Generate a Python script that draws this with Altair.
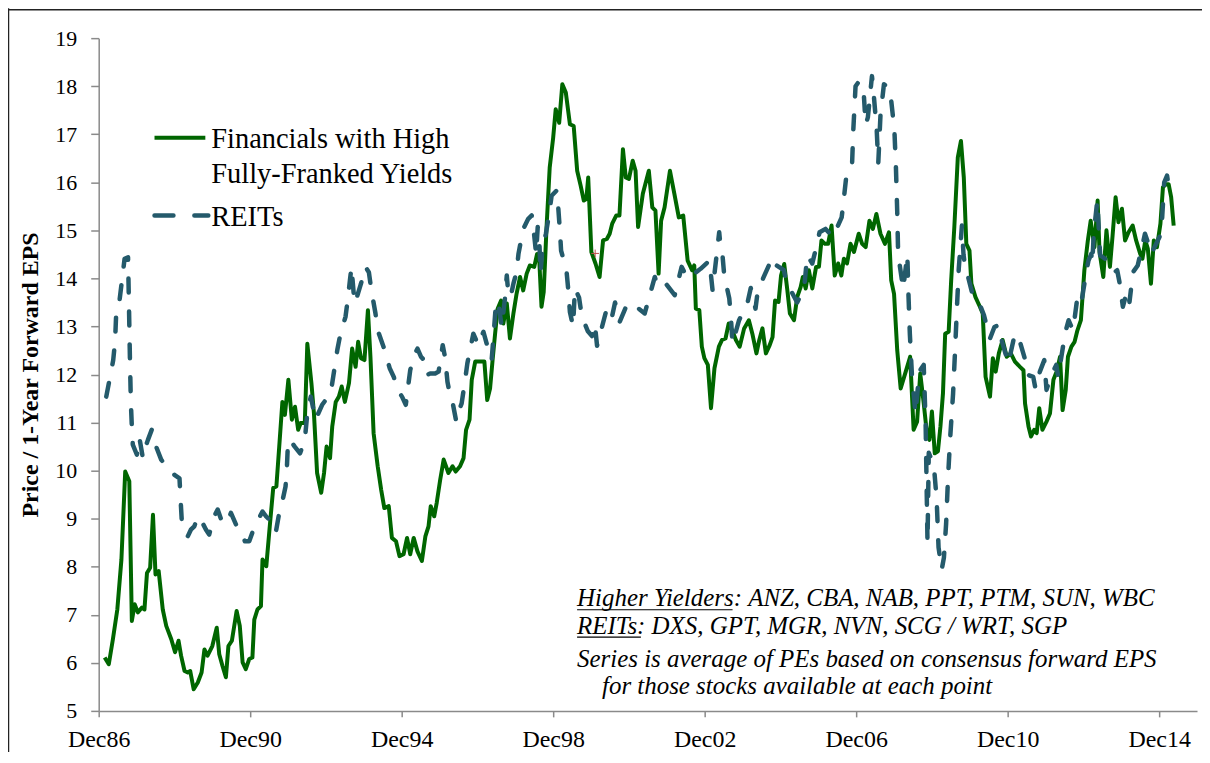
import altair as alt
import pandas as pd

# ---- data (months after Dec 1986, P/E value) ----
fin_month = [1.9, 3.2, 4.5, 5.9, 7.2, 8.4, 9.7, 10.5, 11.4, 12.4, 13.7, 14.5, 15.3, 16.3, 17.2, 18.0, 19.0,
             20.3, 21.4, 23.0, 24.2, 25.3, 26.1, 27.2, 28.2, 29.0, 30.1, 31.4, 32.6, 33.5, 34.5, 36.0, 37.4,
             38.2, 39.2, 40.3, 41.1, 42.2, 43.7, 44.7, 45.6, 46.6, 47.7, 48.7, 49.3, 50.3, 51.4, 51.9, 53.1,
             54.2, 55.3, 56.3, 57.2, 58.2, 59.0, 60.1, 61.2, 62.2, 63.2, 64.0, 65.3, 66.1, 67.4, 68.2, 69.2,
             70.5, 71.4, 72.2, 73.3, 74.0, 75.1, 76.1, 77.0, 78.0, 79.3, 80.3, 81.4, 82.2, 83.1, 84.2, 85.3,
             86.1, 87.1, 88.4, 89.5, 90.5, 91.9, 92.9, 94.2, 95.3, 96.6, 97.7, 98.7, 99.8, 101.0, 102.4, 103.5,
             104.5, 105.2, 106.3, 107.1, 108.2, 109.3, 110.8, 112.1, 113.1, 114.5, 115.6, 116.4, 117.5, 118.2,
             119.3, 120.8, 122.2, 123.1, 124.0, 124.8, 125.6, 126.4, 127.5, 128.2, 129.3, 130.3, 131.4, 132.4,
             133.5, 134.5, 135.6, 136.6, 138.0, 138.9, 139.6, 140.3, 141.0, 141.9, 142.9, 144.0, 144.8, 145.9,
             146.9, 148.0, 149.3, 150.5, 151.6, 152.7, 153.7, 154.5, 155.1, 156.1, 157.4, 158.7, 159.8, 161.0,
             161.9, 162.7, 164.0, 165.0, 166.1, 167.0, 168.0, 169.2, 170.1, 170.9, 172.4, 174.3, 175.4, 176.4,
             177.4, 178.2, 179.3, 181.0, 182.4, 183.8, 185.2, 186.6, 188.0, 188.7, 189.2, 190.3, 191.1, 191.9,
             193.0, 194.0, 195.1, 196.5, 197.5, 198.6, 199.6, 200.7, 201.9, 203.1, 204.5, 206.0, 207.1, 208.4,
             209.3, 210.3, 211.4, 212.6, 213.5, 214.3, 215.4, 216.2, 217.2, 218.2, 219.0, 220.3, 221.3, 222.4,
             223.1, 224.0, 225.0, 226.1, 227.3, 228.2, 229.0, 230.1, 231.1, 232.2, 233.2, 234.3, 235.3, 236.1,
             237.1, 238.2, 239.3, 240.8, 241.9, 243.0, 244.2, 245.3, 246.4, 247.7, 249.1, 250.4, 251.1, 252.0,
             253.0, 254.1, 255.7, 257.1, 258.2, 259.3, 260.3, 261.4, 262.4, 263.2, 264.0, 264.9, 265.9, 266.7,
             267.5, 268.2, 269.3, 270.1, 271.1, 272.2, 273.2, 274.1, 274.9, 275.9, 276.5, 277.8, 279.2, 280.1,
             281.0, 282.4, 283.3, 284.2, 285.2, 286.4, 287.7, 289.0, 290.3, 291.9, 293.0, 293.5, 294.6, 295.4,
             296.4, 297.2, 298.0, 299.0, 300.3, 301.4, 302.5, 303.5, 304.6, 305.4, 306.4, 307.1, 308.2, 309.2,
             310.1, 311.2, 312.3, 313.4, 314.3, 315.5, 316.5, 317.1, 318.3, 319.3, 320.4, 321.2, 322.2, 323.1,
             324.2, 325.2, 326.3, 327.6, 328.7, 330.0, 330.7, 331.6, 332.4, 333.4, 334.3, 335.3, 336.4, 337.2,
             338.2, 339.0, 339.8, 340.6]
fin_pe = [6.11, 5.97, 6.49, 7.11, 8.15, 9.98, 9.78, 6.87, 7.22, 7.05, 7.15, 7.11, 7.87, 7.98, 9.08, 7.84, 7.91,
          7.11, 6.77, 6.49, 6.22, 6.46, 6.15, 5.83, 5.80, 5.83, 5.45, 5.59, 5.80, 6.28, 6.15, 6.35, 6.73,
          6.18, 5.94, 5.70, 6.35, 6.46, 7.08, 6.77, 6.01, 5.87, 6.08, 6.11, 6.90, 7.11, 7.18, 8.15, 8.01,
          8.84, 9.64, 9.67, 10.50, 11.43, 11.16, 11.89, 11.06, 11.33, 10.85, 10.99, 10.99, 12.64, 11.82, 11.19, 9.95,
          9.54, 9.95, 10.50, 10.26, 10.92, 11.43, 11.54, 11.75, 11.43, 11.82, 12.54, 12.16, 12.68, 12.34, 12.30, 13.34,
          12.37, 10.78, 10.09, 9.60, 9.22, 9.26, 8.60, 8.53, 8.22, 8.26, 8.60, 8.26, 8.60, 8.32, 8.12, 8.63,
          8.84, 9.26, 9.05, 9.33, 9.81, 10.23, 9.95, 10.09, 9.98, 10.09, 10.26, 10.85, 11.06, 11.89,
          12.27, 12.27, 12.27, 11.47, 11.71, 12.30, 12.85, 13.37, 13.54, 13.06, 13.48, 12.75, 13.27, 13.68,
          14.03, 13.75, 14.10, 14.27, 14.24, 14.51, 14.37, 13.41, 13.72, 15.07, 16.31, 16.93, 17.52, 17.24,
          18.04, 17.87, 17.21, 17.17, 16.24, 15.93, 15.62, 15.65, 16.10, 14.55, 14.31, 14.03, 14.79, 14.82,
          14.93, 15.14, 15.31, 15.31, 16.69, 16.10, 16.07, 16.45, 16.24, 15.07, 15.76, 16.24, 15.48, 15.41,
          14.10, 15.20, 15.48, 16.24, 15.76, 15.27, 15.31, 14.37, 14.17, 14.27, 13.37, 13.34, 12.58, 12.34,
          12.20, 11.30, 12.13, 12.58, 12.72, 12.75, 13.06, 12.92, 12.72, 12.58, 12.96, 13.13, 12.85, 12.44,
          12.72, 12.96, 12.44, 12.61, 12.78, 13.54, 13.51, 14.06, 14.30, 13.75, 13.27, 13.13, 13.61, 13.82,
          14.03, 13.79, 14.17, 13.79, 14.24, 14.24, 14.79, 14.72, 14.72, 15.10, 14.06, 14.31, 14.06, 14.41,
          14.31, 14.72, 14.55, 14.93, 14.72, 14.65, 15.20, 15.03, 15.34, 14.93, 14.72, 14.96, 13.96, 13.68,
          12.51, 11.71, 12.06, 12.37, 10.85, 11.02, 12.02, 11.40, 10.78, 10.64, 11.23, 10.36, 10.40, 10.92,
          11.61, 12.85, 12.89, 13.96, 15.07, 16.52, 16.86, 16.10, 14.72, 14.58, 13.89, 13.61, 13.41, 13.27,
          11.95, 11.54, 12.34, 12.06, 12.44, 12.72, 12.37, 12.44, 12.27, 12.16, 12.09, 11.40, 10.92, 10.71,
          10.85, 10.78, 11.30, 10.85, 11.02, 11.19, 11.89, 12.06, 12.37, 11.26, 11.68, 12.37, 12.58, 12.68,
          12.92, 13.13, 14.17, 14.79, 15.20, 14.65, 15.62, 14.55, 14.03, 15.00, 14.24, 14.86, 15.69, 15.17,
          15.45, 14.79, 14.96, 15.10, 14.79, 14.51, 14.41, 14.79, 14.62, 13.89, 14.79, 14.65, 15.14, 15.90,
          15.96, 15.96, 15.69, 15.10]

reit_month = [2.4, 3.6, 4.6, 5.2, 5.5, 6.6, 7.5, 8.2, 9.3, 9.6, 9.9, 10.2, 10.5, 10.8, 12.1, 12.9, 14.0, 14.7,
              15.6, 16.8, 18.2, 19.8, 21.0, 22.4, 24.0, 25.6, 25.9, 26.3, 27.2, 28.2, 29.2, 30.3, 31.4, 32.9,
              34.0, 35.0, 36.6, 37.7, 39.2, 40.6, 41.9, 43.5, 45.1, 46.3, 47.7, 49.0, 50.3, 51.9, 53.0, 54.5,
              56.1, 57.2, 58.0, 59.2, 59.6, 60.0, 61.0, 62.1, 63.8, 65.3, 66.1, 67.2, 68.7, 70.8, 73.5, 74.3,
              75.6, 76.6, 78.2, 79.0, 79.6, 80.1, 80.8, 81.2, 83.1, 84.5, 85.6, 86.4, 87.7, 88.4, 90.6, 92.2,
              93.5, 94.7, 96.1, 97.3, 98.7, 99.8, 101.0, 102.1, 103.1, 104.0, 105.0, 106.6, 107.7, 109.0, 109.8,
              110.5, 111.4, 112.1, 113.3, 114.2, 115.0, 116.1, 116.8, 118.7, 120.3, 121.9, 122.9, 124.5, 125.0,
              125.9, 126.6, 127.7, 128.7, 129.3, 129.8, 130.5, 131.4, 132.4, 133.0, 134.5, 136.1, 137.2, 138.0,
              138.6, 139.1, 139.6, 140.0, 140.6, 141.7, 142.7, 143.5, 145.1, 145.6, 146.2, 146.5, 148.2, 148.8,
              149.3, 150.3, 150.9, 152.2, 153.1, 155.0, 156.3, 157.2, 157.9, 160.7, 162.3, 163.6, 165.1, 167.0,
              168.6, 173.0, 174.6, 176.2, 177.2, 179.7, 182.5, 184.7, 186.6, 190.7, 193.5, 193.9, 194.5, 196.6,
              197.1, 197.7, 198.2, 199.8, 200.3, 200.8, 202.9, 205.6, 206.6, 208.1, 208.7, 209.7, 210.5, 213.5,
              214.8, 217.1, 217.9, 221.3, 223.5, 224.5, 226.1, 227.7, 228.4, 230.3, 232.6, 235.4, 235.9, 236.9,
              238.7, 239.1, 239.8, 240.9, 242.4, 243.0, 243.7, 245.0, 245.4, 246.5, 247.0, 247.7, 248.8, 250.7,
              252.1, 252.6, 253.0, 253.3, 254.9, 256.2, 256.6, 257.0, 257.7, 258.8, 260.0, 261.4, 262.0, 262.6,
              263.0, 264.6, 265.5, 266.1, 267.1, 267.8, 268.5, 269.1, 269.8, 270.7, 271.3, 271.9, 272.5, 273.5,
              274.0, 274.6, 275.2, 277.1, 279.3, 280.5, 282.4, 283.8, 285.2, 285.8, 288.2, 289.0, 290.3, 291.9,
              294.0, 294.5, 296.1, 296.8, 298.2, 299.6, 300.3, 301.6, 303.4, 304.0, 305.6, 306.3, 307.3, 308.7,
              310.1, 311.3, 312.9, 313.6, 314.5, 314.8, 315.3, 316.4, 317.3, 321.0, 321.9, 322.7, 323.4, 324.5,
              325.3, 326.1, 326.6, 327.7, 329.2, 330.8, 331.5, 332.6, 333.4, 334.0, 336.1, 336.8, 337.6, 338.5,
              339.0, 339.4]
reit_pe = [11.54, 11.95, 12.30, 12.70, 13.20, 13.54, 14.03, 14.41, 14.44, 13.40, 12.30, 11.40, 10.92, 10.54, 10.33,
           10.68, 10.26, 10.47, 10.64, 10.85, 10.50, 10.23, 10.12, 10.05, 9.91, 9.84, 9.46, 8.98, 8.84, 8.63, 8.77,
           8.84, 9.05, 8.91, 8.77, 8.67, 9.05, 9.19, 8.91, 8.91, 9.12, 8.88, 8.77, 8.53, 8.53, 8.77, 8.95, 9.15,
           9.05, 8.95, 8.71, 9.12, 9.30, 9.67, 10.02, 10.64, 10.60, 10.50, 10.36, 10.64, 11.19, 11.54, 11.06, 11.37,
           11.61, 11.95, 12.51, 12.85, 13.20, 13.61, 13.96, 14.24, 13.68, 13.48, 13.89, 14.24, 14.13, 13.75, 13.27,
           12.92, 12.51, 12.13, 11.95, 11.68, 11.54, 11.37, 12.09, 12.37, 12.54, 12.37, 12.30, 11.99, 12.02, 12.02,
           12.06, 12.61, 12.34, 11.85, 11.54, 11.43, 11.02, 11.26, 11.40, 11.89, 12.23, 12.85, 12.61, 12.89, 12.65,
           12.30, 12.72, 13.51, 13.51, 12.99, 13.58, 14.06, 13.68, 13.61, 13.89, 14.13, 14.51, 15.03, 15.24, 15.31,
           14.89, 14.51, 15.07, 14.79, 14.10, 14.65, 14.93, 15.34, 15.72, 15.83, 15.48, 14.93, 14.58, 14.17, 13.75,
           13.30, 13.00, 13.80, 13.60, 13.20, 12.90, 12.80, 13.05, 12.60, 13.30, 13.10, 13.50, 13.10, 13.40, 13.50,
           13.27, 13.65, 14.03, 13.82, 13.89, 13.65, 14.24, 14.00, 14.20, 14.37, 14.13, 13.75, 14.96, 14.62, 14.44,
           14.06, 13.58, 13.20, 12.65, 13.13, 13.50, 13.80, 13.37, 13.68, 13.82, 14.00, 14.44, 14.27, 14.17, 13.92,
           13.50, 13.79, 14.48, 14.31, 14.75, 14.96, 15.03, 14.86, 15.27, 15.55, 16.14, 16.38, 17.10, 18.00, 18.10,
           17.85, 17.20, 17.35, 18.21, 17.95, 17.10, 16.40, 17.40, 18.04, 17.94, 17.10, 16.30, 15.40, 14.50, 13.78,
           14.50, 13.60, 12.85, 11.95, 11.18, 12.06, 12.20, 11.00, 8.50, 10.37, 10.12, 9.40, 8.40, 7.94, 8.19, 8.90,
           9.85, 10.70, 11.60, 12.45, 13.35, 14.20, 15.10, 14.50, 14.20, 14.10, 13.60, 13.44, 13.23, 12.75, 12.99,
           13.03, 12.78, 12.23, 12.47, 12.85, 12.68, 12.20, 11.99, 11.95, 11.71, 12.06, 12.30, 11.68, 11.95, 12.20,
           11.95, 12.61, 12.89, 13.13, 12.92, 13.61, 13.48, 14.13, 14.37, 14.51, 14.31, 14.96, 15.62, 14.48, 14.31,
           14.13, 14.17, 13.93, 13.41, 13.61, 13.75, 13.51, 14.13, 14.27, 14.72, 14.93, 14.72, 14.51, 14.58, 14.86,
           15.10, 16.00, 16.14, 15.93, 15.70]

marker_month = [157.3]
marker_pe = [14.52]

tick_years = [1986, 1990, 1994, 1998, 2002, 2006, 2010, 2014]
legend_labels = ["Financials with High", "Fully-Franked Yields", "REITs"]
note_lines = ["Higher Yielders:\u00a0ANZ, CBA, NAB, PPT, PTM, SUN, WBC",
              "REITs: DXS, GPT, MGR, NVN, SCG / WRT, SGP",
              "Series is average of PEs based on consensus forward EPS",
              "for those stocks available at each point"]
y_title = "Price / 1-Year Forward EPS"

GREEN = "#006600"
BLUE = "#245A6B"
FONT = "'Liberation Serif', 'Times New Roman', 'DejaVu Serif', serif"

base_date = pd.Timestamp("1986-12-01")


def to_dates(months):
    return [(base_date + pd.Timedelta(days=float(m) * 30.4375)).strftime("%Y-%m-%dT%H:%M:%S") for m in months]


fin_df = pd.DataFrame({"date": to_dates(fin_month), "pe": fin_pe})
reit_df = pd.DataFrame({"date": to_dates(reit_month), "pe": reit_pe})
mark_df = pd.DataFrame({"date": to_dates(marker_month), "pe": marker_pe})

x_scale = alt.Scale(domain=[alt.DateTime(year=1986, month=12, date=1),
                            alt.DateTime(year=2015, month=12, date=1)])
y_scale = alt.Scale(domain=[5, 19], nice=False, zero=False)

x_enc = alt.X("date:T", scale=x_scale, title=None,
              axis=alt.Axis(values=[alt.DateTime(year=y, month=12, date=1) for y in tick_years],
                            format="%b%y", labelFontSize=24, tickSize=6, labelPadding=11,
                            labelFlush=False, labelOverlap=False))
y_enc = alt.Y("pe:Q", scale=y_scale, title=y_title,
              axis=alt.Axis(values=list(range(5, 20)), labelFontSize=22, tickSize=8, labelPadding=14,
                            titleFontSize=24, titleFontWeight="bold", titleFont=FONT, titlePadding=12,
                            titleColor="black"))

fin_line = alt.Chart(fin_df).mark_line(color=GREEN, strokeWidth=4, strokeJoin="round").encode(x=x_enc, y=y_enc)
reit_line = alt.Chart(reit_df).mark_line(color=BLUE, strokeWidth=4.5, strokeDash=[14, 19], strokeCap="round",
                                         strokeJoin="round").encode(x="date:T", y="pe:Q")
marker = alt.Chart(mark_df).mark_point(shape="M-1,0L1,0M0,-1L0,1", size=60, stroke="#c0504d", strokeWidth=1,
                                       filled=False, opacity=1).encode(x="date:T", y="pe:Q")

one = pd.DataFrame({"k": [0]})


def rule(x1, x2, y1, y2, color, width, dash=None):
    kw = dict(color=color, strokeWidth=width)
    if dash is not None:
        kw["strokeDash"] = dash
        kw["strokeCap"] = "round"
    return alt.Chart(one).mark_rule(**kw).encode(x=alt.value(x1), x2=alt.value(x2), y=alt.value(y1), y2=alt.value(y2))


def text(s, x, y, size, italic=False):
    kw = dict(align="left", baseline="alphabetic", font=FONT, fontSize=size, color="black")
    if italic:
        kw["fontStyle"] = "italic"
    return alt.Chart(pd.DataFrame({"t": [s]})).mark_text(**kw).encode(text="t:N", x=alt.value(x), y=alt.value(y))


frame_left = rule(-90.5, -90.5, -30, 760, "#222222", 1.5)
frame_top = rule(-92, 1120, -28.5, -28.5, "#222222", 1.5)

leg_fin_sym = rule(56, 107, 100, 100, GREEN, 4)
leg_reit_sym = rule(56, 110, 178, 178, BLUE, 4.5, dash=[19, 21])
leg_t1 = text(legend_labels[0], 113, 110, 28.5)
leg_t2 = text(legend_labels[1], 113, 145, 28.5)
leg_t3 = text(legend_labels[2], 113, 188, 28.5)

note1 = text(note_lines[0], 480, 570, 25, italic=True)
note2 = text(note_lines[1], 480, 598, 25, italic=True)
note3 = text(note_lines[2], 480, 631, 25, italic=True)
note4 = text(note_lines[3], 505, 658, 25, italic=True)
ul1 = rule(480, 636, 573.5, 573.5, "black", 1.2)
ul2 = rule(480, 544, 601, 601, "black", 1.2)

chart = alt.layer(
    frame_left, frame_top,
    fin_line, reit_line, marker,
    leg_fin_sym, leg_reit_sym, leg_t1, leg_t2, leg_t3,
    note1, note2, note3, note4, ul1, ul2,
).properties(
    width=1102, height=675,
    autosize=alt.AutoSizeParams(type="none"),
    padding={"left": 91, "top": 29, "right": 5, "bottom": 40},
    background="white",
).configure_view(stroke=None).configure_axis(
    grid=False, labelFont=FONT, labelColor="black", titleFont=FONT,
    domainColor="#8a8a8a", tickColor="#8a8a8a", domainWidth=1.5, tickWidth=1.5,
)

chart.save("out.html", embed_options={"renderer": "svg", "actions": False})
